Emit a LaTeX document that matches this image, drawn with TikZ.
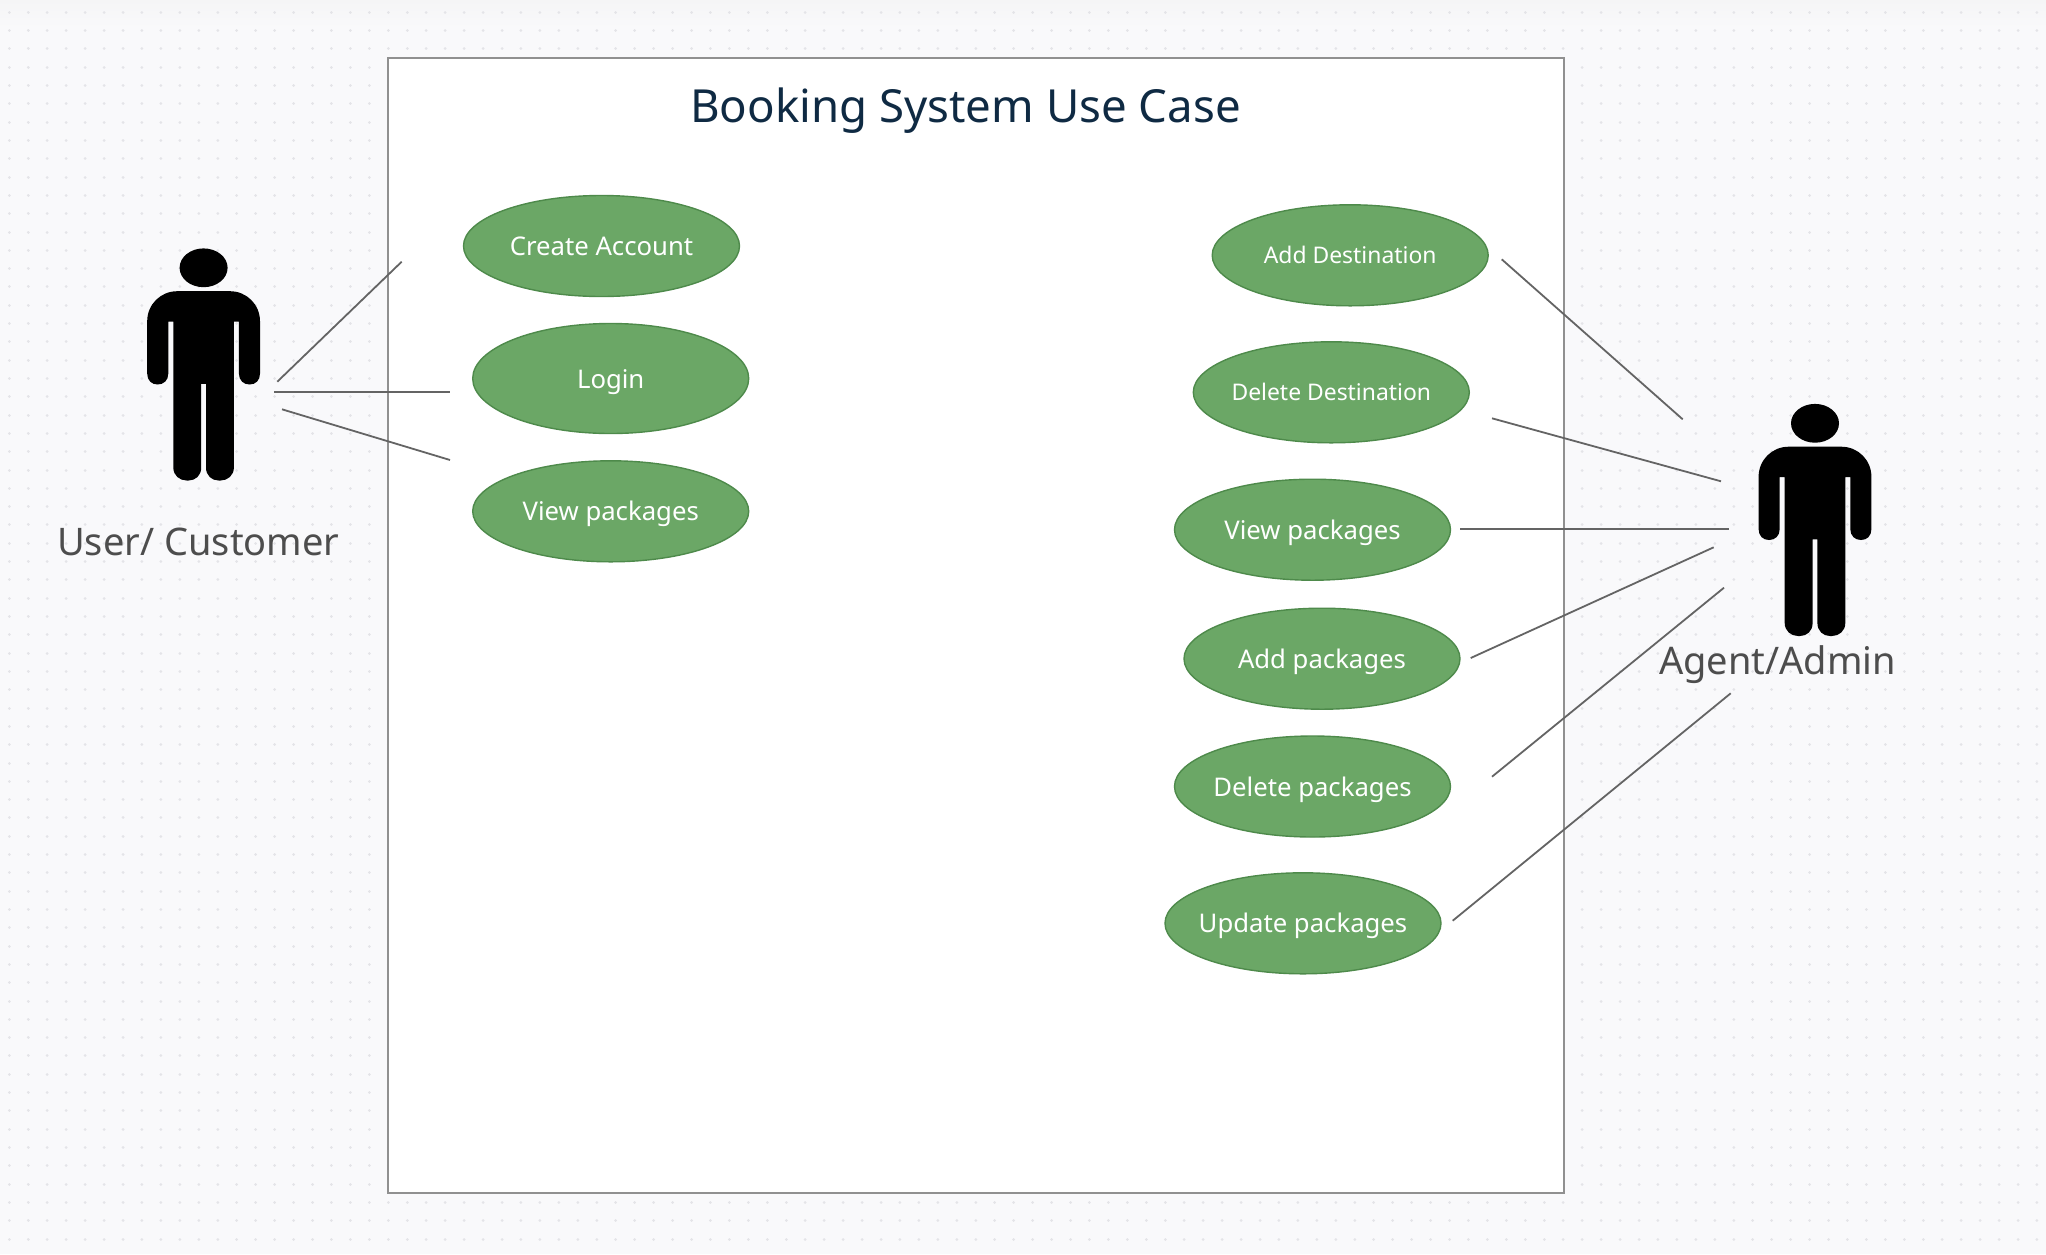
\documentclass[tikz,border=0pt]{standalone}
\usepackage{fontspec}
\setmainfont{Noto Sans}
\usetikzlibrary{shapes.geometric}
\definecolor{pagebg}{HTML}{F9F9FB}
\definecolor{pagetop}{HTML}{F5F5F6}
\definecolor{griddot}{HTML}{E4E4E8}
\definecolor{framecol}{HTML}{909090}
\definecolor{linecol}{HTML}{646464}
\definecolor{casefill}{HTML}{6BA766}
\definecolor{casedraw}{HTML}{4E8A4B}
\definecolor{titlecol}{HTML}{0F2A43}
\definecolor{actorcol}{HTML}{4D4D4D}
\tikzset{
  x=0.5pt,y=-0.5pt,
  usecase/.style={draw=casedraw,line width=0.7pt,fill=casefill,ellipse,inner sep=-10pt,
    minimum width=138pt,minimum height=50.5pt,text=white,text height=12.5pt,text depth=3pt,
    font=\fontsize{12.85pt}{15pt}\selectfont},
  smallcase/.style={usecase,text height=11.1pt,font=\fontsize{11.45pt}{14pt}\selectfont},
  assoc/.style={draw=linecol,line width=0.9pt},
  dotrow/.style={draw=griddot,line width=1.5pt,line cap=round,dash pattern=on 0.01pt off 9.465pt},
  actorlabel/.style={anchor=base,text=actorcol,inner sep=0pt,font=\fontsize{19pt}{23pt}\selectfont},
  actorfig/.pic={
    \fill[black] (0,267.3) ellipse [x radius=12pt,y radius=9.7pt];
    \fill[black] (-26.4,290.7) .. controls (-43,290.7) and (-56.4,304) .. (-56.4,320.7)
      -- (-56.4,373) .. controls (-56.4,380) and (-52,384) .. (-46,384)
      .. controls (-40,384) and (-35.3,380) .. (-35.3,373)
      -- (-35.3,321) -- (-30.3,321) -- (-30.3,467)
      .. controls (-30.3,475) and (-24,480) .. (-17,480)
      -- (-15,480) .. controls (-8,480) and (-2.4,475) .. (-2.4,467)
      -- (-2.4,383.3) -- (2.4,383.3) -- (2.4,467)
      .. controls (2.4,475) and (8,480) .. (15,480)
      -- (17,480) .. controls (24,480) and (30.3,475) .. (30.3,467)
      -- (30.3,321) -- (35.3,321) -- (35.3,373)
      .. controls (35.3,380) and (40,384) .. (46,384)
      .. controls (52,384) and (56.4,380) .. (56.4,373)
      -- (56.4,320.7) .. controls (56.4,304) and (43,290.7) .. (26.4,290.7)
      -- cycle;
  }
}
\begin{document}
\begin{tikzpicture}
\useasboundingbox (0,0) rectangle (2046,1254);
\fill[pagebg] (0,0) rectangle (2046,1254);
\shade[top color=pagetop,bottom color=pagebg] (0,0) rectangle (2046,28);
\foreach \j in {0,...,68}
  \draw[dotrow] (9.3,12.3+18.31*\j) -- (2046,12.3+18.31*\j);
\draw[framecol,line width=1.1pt,fill=white] (388.3,58) rectangle (1563.7,1193);
\node[anchor=base,text=titlecol,inner sep=0pt,font=\fontsize{22.8pt}{28pt}\selectfont] (title) at (965.6,122.7) {Booking System Use Case};

% actors
\pic at (203.6,0.5) {actorfig};
\pic at (1815,156) {actorfig};
\node[actorlabel] (user) at (198.3,555.3) {User/ Customer};
\node[actorlabel] (agent) at (1777.7,674.3) {Agent/Admin};

% use cases
\node[usecase] (create) at (601.5,246) {Create Account};
\node[usecase,minimum height=55pt] (login) at (610.7,378.5) {Login};
\node[usecase] (viewl) at (610.7,511.3) {View packages};
\node[smallcase] (adddest) at (1350.2,255.3) {Add Destination};
\node[smallcase] (deldest) at (1331.3,392.3) {Delete Destination};
\node[usecase] (viewr) at (1312.5,529.7) {View packages};
\node[usecase] (addp) at (1322,658.7) {Add packages};
\node[usecase] (delp) at (1312.5,786.5) {Delete packages};
\node[usecase] (updp) at (1303,923.3) {Update packages};

% free connector ends
\coordinate (u1) at (277.3,381.7); \coordinate (c1) at (401.7,261.7);
\coordinate (u2) at (274,391.7);   \coordinate (c2) at (450,391.7);
\coordinate (u3) at (282,409.3);   \coordinate (c3) at (450,460);
\coordinate (d1) at (1501.7,259.3); \coordinate (a1) at (1682.7,419.3);
\coordinate (d2) at (1492,418.3);   \coordinate (a2) at (1721,481.3);
\coordinate (d3) at (1460.3,528.7); \coordinate (a3) at (1729,528.7);
\coordinate (d4) at (1470.7,658);   \coordinate (a4) at (1713.7,547.3);
\coordinate (d5) at (1492,776.7);   \coordinate (a5) at (1724,587.7);
\coordinate (d6) at (1452.7,920.7); \coordinate (a6) at (1730.7,693.3);
\draw[assoc] (u1) -- (c1);
\draw[assoc] (u2) -- (c2);
\draw[assoc] (u3) -- (c3);
\draw[assoc] (d1) -- (a1);
\draw[assoc] (d2) -- (a2);
\draw[assoc] (d3) -- (a3);
\draw[assoc] (d4) -- (a4);
\draw[assoc] (d5) -- (a5);
\draw[assoc] (d6) -- (a6);
\end{tikzpicture}
\end{document}
